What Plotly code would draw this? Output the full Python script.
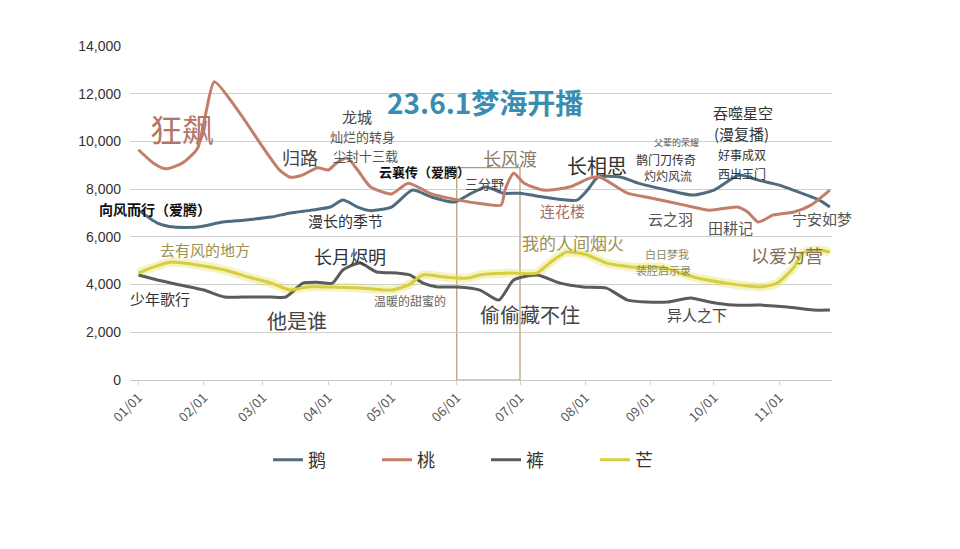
import plotly.graph_objects as go

# ---- data ----
e_dates = ["2023-01-01","2023-01-10","2023-01-18","2023-01-29","2023-02-10","2023-02-20","2023-03-05","2023-03-14",
           "2023-03-24","2023-04-02","2023-04-08","2023-04-15","2023-04-21","2023-05-01","2023-05-11","2023-05-20",
           "2023-05-31","2023-06-08","2023-06-15","2023-06-23","2023-07-01","2023-07-12","2023-07-28","2023-08-02",
           "2023-08-07","2023-08-18","2023-08-26","2023-09-09","2023-09-21","2023-10-01","2023-10-13","2023-10-22",
           "2023-11-01","2023-11-14","2023-11-20","2023-11-25"]
e_vals = [7120,6580,6410,6410,6620,6700,6830,7000,7120,7250,7540,7250,7100,7250,7960,7670,
          7460,7830,8090,7830,7830,7670,7540,7960,8500,8500,8250,7960,7750,7960,8590,8380,
          8170,7750,7540,7250]

t_dates = ["2023-01-01","2023-01-08","2023-01-14","2023-01-22","2023-01-29","2023-02-02","2023-02-06","2023-02-18",
           "2023-03-01","2023-03-09","2023-03-14","2023-03-20","2023-03-27","2023-04-01","2023-04-05","2023-04-10",
           "2023-04-15","2023-04-21","2023-05-01","2023-05-09","2023-05-20","2023-06-02","2023-06-12","2023-06-22",
           "2023-06-24","2023-06-28","2023-07-03","2023-07-12","2023-07-25","2023-08-03","2023-08-08","2023-08-21",
           "2023-09-01","2023-09-17","2023-09-29","2023-10-12","2023-10-17","2023-10-22","2023-10-29","2023-11-08",
           "2023-11-16","2023-11-25"]
t_vals = [9650,9100,8850,9100,9700,11200,12500,11200,9760,8800,8500,8600,8900,8800,9100,9300,
          8800,8100,7800,8250,7800,7540,7400,7330,8000,8670,8250,7960,8100,8460,8500,7830,
          7630,7330,7120,7250,7040,6620,6910,7040,7330,7960]

k_dates = ["2023-01-01","2023-01-10","2023-01-21","2023-02-01","2023-02-11","2023-02-22","2023-03-05","2023-03-12",
           "2023-03-20","2023-03-27","2023-04-03","2023-04-08","2023-04-16","2023-04-24","2023-05-04","2023-05-10",
           "2023-05-16","2023-05-23","2023-06-01","2023-06-12","2023-06-21","2023-06-28","2023-07-09","2023-07-20",
           "2023-07-31","2023-08-11","2023-08-21","2023-08-30","2023-09-09","2023-09-20","2023-09-29","2023-10-10",
           "2023-10-23","2023-11-05","2023-11-17","2023-11-25"]
k_vals = [4400,4190,3980,3770,3480,3480,3480,3480,4060,4100,4060,4610,4900,4530,4480,4400,
          4060,3900,3900,3770,3350,4190,4400,4060,3900,3850,3350,3270,3270,3440,3270,3140,
          3140,3060,2930,2930]

m_dates = ["2023-01-01","2023-01-08","2023-01-16","2023-01-29","2023-02-11","2023-02-22","2023-03-05","2023-03-14",
           "2023-03-22","2023-04-02","2023-04-18","2023-05-01","2023-05-09","2023-05-16","2023-05-26","2023-06-06",
           "2023-06-12","2023-06-26","2023-07-09","2023-07-15","2023-07-23","2023-08-02","2023-08-11","2023-08-24",
           "2023-09-06","2023-09-21","2023-10-07","2023-10-23","2023-10-31","2023-11-08","2023-11-12","2023-11-20",
           "2023-11-25"]
m_vals = [4480,4730,4940,4820,4610,4320,4060,3770,3900,3900,3850,3770,3980,4400,4320,4270,
          4400,4480,4480,4900,5360,5240,4900,4730,4730,4320,4060,3900,4060,4730,5320,5450,
          5360]

series_names = ["鹅", "桃", "裤", "芒"]
tick_vals = ["2023-01-01","2023-02-01","2023-03-01","2023-04-01","2023-05-01","2023-06-01",
             "2023-07-01","2023-08-01","2023-09-01","2023-10-01","2023-11-01"]
tick_text = ["01/01","02/01","03/01","04/01","05/01","06/01","07/01","08/01","09/01","10/01","11/01"]
y_ticks = [0, 2000, 4000, 6000, 8000, 10000, 12000, 14000]

FONT = "Noto Sans CJK SC"
W, H = 960, 549
OFF = 8  # page body margin
# plot area in viewport pixels: x 130..832, y 46..380
L, T = 130 - OFF, 46 - OFF
R = W - (832 - OFF)
B = H - (380 - OFF)
PW, PH = W - L - R, H - T - B

def px(x):
    return (x - OFF - L) / PW

def py(y):
    return (H - B - (y - OFF)) / PH

fig = go.Figure()

# glow for yellow
fig.add_trace(go.Scatter(x=m_dates, y=m_vals, mode="lines", showlegend=False, hoverinfo="skip",
                         line=dict(color="rgba(228,222,80,0.35)", width=9, shape="spline", smoothing=0.6)))

colors = ["#4f6b80", "#c27e68", "#5b5b5b", "#d6cd40"]
for name, xs, ys, c in zip(series_names, [e_dates, t_dates, k_dates, m_dates],
                           [e_vals, t_vals, k_vals, m_vals], colors):
    fig.add_trace(go.Scatter(x=xs, y=ys, name=name, mode="lines",
                             line=dict(color=c, width=3, shape="spline", smoothing=0.6)))

# highlight box 06/01 - 07/01
fig.add_shape(type="rect", xref="x", yref="y", x0="2023-06-01", x1="2023-07-01", y0=0, y1=8900,
              line=dict(color="#b39a6a", width=1.2), fillcolor="rgba(0,0,0,0)", layer="below")

anns = [
    ("23.6.1梦海开播", 485, 102, 28, "#3a8db0", True),
    ("狂飙", 182, 128, 32, "#b27466", False),
    ("龙城", 357, 116, 15, "#444444", False),
    ("灿烂的转身", 362, 136, 13, "#555555", False),
    ("尘封十三载", 365, 155, 13, "#555555", False),
    ("归路", 300, 157, 18, "#444444", False),
    ("云襄传（爱腾）", 424, 171, 13, "#111111", True),
    ("三分野", 484, 183, 13, "#444444", False),
    ("长风渡", 510, 158, 18, "#8a7a66", False),
    ("长相思", 597, 165, 20, "#333333", False),
    ("父辈的荣耀", 676, 142, 9, "#555555", False),
    ("鹊门刀传奇", 666, 159, 12, "#333333", False),
    ("灼灼风流", 668, 175, 12, "#444444", False),
    ("吞噬星空", 743, 112, 15, "#333333", False),
    ("(漫复播)", 741, 134, 15, "#333333", False),
    ("好事成双", 742, 154, 12, "#333333", False),
    ("西出玉门", 742, 173, 12, "#333333", False),
    ("向风而行（爱腾）", 155, 209, 14, "#111111", True),
    ("漫长的季节", 345, 220, 15, "#333333", False),
    ("连花楼", 562, 210, 15, "#a06e62", False),
    ("云之羽", 670, 218, 15, "#555555", False),
    ("田耕记", 730, 227, 15, "#555555", False),
    ("宁安如梦", 822, 218, 15, "#555555", False),
    ("去有风的地方", 205, 249, 15, "#9a9050", False),
    ("长月烬明", 350, 256, 18, "#333333", False),
    ("我的人间烟火", 573, 243, 17, "#a09050", False),
    ("白日梦我", 667, 254, 11, "#888866", False),
    ("装腔启示录", 663, 270, 11, "#888866", False),
    ("以爱为营", 787, 255, 18, "#7d7058", False),
    ("少年歌行", 160, 298, 15, "#333333", False),
    ("他是谁", 297, 320, 20, "#444444", False),
    ("温暖的甜蜜的", 410, 300, 12, "#666666", False),
    ("偷偷藏不住", 530, 314, 20, "#444444", False),
    ("异人之下", 697, 314, 15, "#444444", False),
]
for text, x, y, size, color, bold in anns:
    fig.add_annotation(x=px(x), y=py(y), xref="paper", yref="paper", text=f"<b>{text}</b>" if bold else text,
                       showarrow=False, xanchor="center", yanchor="middle",
                       font=dict(family=FONT, size=size, color=color))

fig.update_layout(
    width=W, height=H,
    margin=dict(l=L, r=R, t=T, b=B),
    paper_bgcolor="white", plot_bgcolor="white",
    font=dict(family=FONT, color="#444444"),
    showlegend=True,
    legend=dict(orientation="h", x=px(486), xanchor="center", y=py(460), yanchor="middle",
                font=dict(family=FONT, size=18, color="#333333"), entrywidth=64, itemwidth=30,
                traceorder="normal"),
    xaxis=dict(type="date", range=["2022-12-28", "2023-11-26"], tickvals=tick_vals, ticktext=tick_text,
               tickangle=-45, tickfont=dict(family=FONT, size=13, color="#555555"),
               showgrid=False, showline=True, linecolor="#c8c8c8", ticks="outside", ticklen=4,
               tickcolor="#d0d0d0", zeroline=False),
    yaxis=dict(range=[0, 14000], tickvals=y_ticks, tickformat=",d",
               tickfont=dict(family="Liberation Sans", size=14, color="#333333"),
               showgrid=True, gridcolor="#cfcfcf", gridwidth=1, zeroline=False, showline=False,
               ticks="", ticklabelstandoff=8),
)

fig.write_html("out.html")
